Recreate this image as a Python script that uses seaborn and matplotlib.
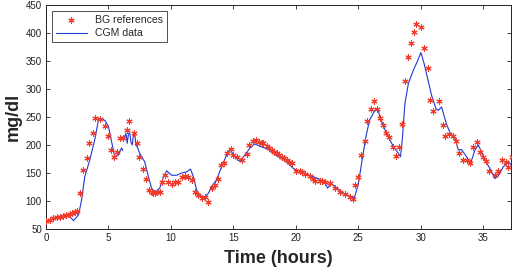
import numpy as np
import pandas as pd
import matplotlib
matplotlib.use("Agg")
import matplotlib.pyplot as plt
import seaborn as sns

# CGM trace (hours, mg/dl); NaN marks the short gap in the sensor data
cgm_time = [0.0, 0.3, 0.6, 0.9, 1.2, 1.5, 1.8, 2.0, 2.2, 2.4, 2.6, 2.85, 3.1, 3.5, 3.9,
            4.2, 4.5, 4.75, 5.0, 5.25, 5.5, 5.8, 6.05, 6.15, 6.22, 6.3, 6.4, 6.5, 6.6,
            6.7, 6.8, 6.9, 7.0, 7.1, 7.2, 7.3, 7.5, 7.9, 8.2, 8.45, 8.7, 8.9, 9.1, 9.4,
            9.65, 10.05, 10.45, 10.85, 11.25, 11.57, 11.8, 12.05, 12.3, 12.6, 13.0,
            13.25, 13.65, 14.05, 14.45, 14.72, 15.1, 15.5, 15.9, 16.3, 16.7, 17.2, 17.8,
            18.2, 19.25, 19.8, 20.85, 21.8, 22.3, 22.53, 22.85, 23.8, 24.67, 25.0,
            25.25, 25.6, 25.9, 26.35, 26.6, 26.75, 27.25, 27.8, 28.2, 28.37, 28.53,
            28.72, 29.0, 29.4, 29.65, 30.0, 30.25, 30.6, 30.85, 31.2, 31.4, 31.65,
            32.05, 32.35, 32.72, 33.0, 33.25, 33.65, 33.97, 34.32, 34.59, 34.85, 35.12,
            35.52, 35.92, 36.19, 36.59, 36.99, 37.25]
cgm_value = [63, 66, 68, 70, 72, 73, 72, 70, 65, 70, 75, 102, 143, 173, 209,
             245, 247, 243, 233, 206, 179, 182, 195, 190, np.nan, 215, 221, 203, 220,
             222, 205, 200, 218, 221, 200, 197, 185, 170, 143, 123, 117, 118, 123, 143,
             154, 146, 146, 150, 152, 157, 143, 120, 111, 105, 114,
             126, 138, 161, 182, 192, 179, 171, 182, 194, 202, 197, 192,
             185, 170, 158, 148, 140, 134, 123, 131, 114, 105, 131,
             167, 215, 245, 263, 261, 247, 221, 197, 185, 179, 215,
             274, 310, 334, 346, 365, 346, 313, 289, 265, 262, 268,
             237, 221, 212, 191, 192, 179, 167, 191, 200, 188, 173,
             158, 140, 145, 161, 170, 164]

# finger-stick blood glucose references
bg_time = [0.0, 0.3, 0.6, 0.9, 1.1, 1.4, 1.6, 1.9, 2.1, 2.3, 2.5, 2.72, 2.99, 3.25, 3.47,
           3.73, 3.95, 4.32, 4.72, 4.99, 5.2, 5.44, 5.7, 5.92, 6.19, 6.45, 6.67, 7.04,
           7.25, 7.47, 7.73, 8.0, 8.27, 8.45, 8.59, 8.72, 8.85, 9.12, 9.25, 9.52, 9.79,
           10.05, 10.32, 10.59, 10.85, 11.12, 11.39, 11.65, 11.92, 12.19, 12.45, 12.72,
           12.99, 13.25, 13.52, 13.79, 13.97, 14.24, 14.5, 14.77, 14.99, 15.31, 15.65,
           16.05, 16.27, 16.53, 16.8, 17.07, 17.25, 17.39, 17.65, 17.85, 18.05, 18.25,
           18.45, 18.65, 18.85, 19.05, 19.25, 19.45, 19.65, 20.0, 20.32, 20.52, 20.72,
           21.12, 21.35, 21.52, 21.92, 22.12, 22.32, 22.72, 23.12, 23.52, 23.92, 24.32,
           24.53, 24.72, 24.93, 25.2, 25.52, 25.71, 25.97, 26.24, 26.45, 26.72, 26.93,
           27.2, 27.47, 27.73, 28.0, 28.27, 28.51, 28.72, 28.99, 29.2, 29.44, 29.6,
           29.97, 30.24, 30.55, 30.75, 30.99, 31.47, 31.73, 31.92, 32.27, 32.53, 32.8,
           33.07, 33.39, 33.65, 33.92, 34.19, 34.51, 34.72, 34.99, 35.2, 35.47, 35.92,
           36.19, 36.45, 36.8, 36.99, 37.25]
bg_value = [65, 67, 69, 71, 72, 74, 75, 76, 79, 80, 83, 115, 155, 176, 203,
            222, 248, 246, 234, 216, 191, 179, 188, 212, 212, 227, 243, 221,
            203, 179, 158, 139, 120, 116, 114, 114, 117, 117, 134, 146, 134,
            131, 134, 134, 143, 145, 142, 137, 117, 111, 105, 108,
            99, 123, 129, 140, 164, 168, 185, 192, 182, 178, 174,
            184, 200, 208, 209, 206, 204, 203, 198, 195, 191, 188,
            185, 182, 179, 176, 173, 170, 167, 154, 154, 151, 148,
            145, 140, 136, 136, 135, 134, 133, 123, 117, 112, 108,
            104, 129, 143, 182, 208, 242, 265, 279, 264, 249, 236,
            222, 215, 197, 180, 196, 237, 315, 358, 383, 402, 416,
            410, 374, 337, 280, 261, 278, 236, 216, 219, 216, 208,
            186, 173, 173, 168, 196, 206, 188, 178, 172, 154, 146,
            154, 174, 170, 161, 179]

cgm = pd.DataFrame({"time": cgm_time, "value": cgm_value})
bg = pd.DataFrame({"time": bg_time, "value": bg_value})

sns.set_style("ticks")
plt.rcParams['font.family'] = ['Liberation Sans', 'DejaVu Sans']

fig = plt.figure(figsize=(5.16, 2.72), dpi=100)
ax = fig.add_axes([0.0891, 0.158, 0.901, 0.8236])

sns.scatterplot(data=bg, x="time", y="value", ax=ax, marker=(6, 2, 0), s=15,
                color="#f03a2a", linewidth=0.8, label="BG references", zorder=3)
ax.plot(cgm["time"], cgm["value"], color="#2238d4", linewidth=0.8, label="CGM data", zorder=2)

ax.set_xlim(0, 37.2)
ax.set_ylim(50, 450)
ax.set_xticks(range(0, 36, 5))
ax.set_yticks(range(50, 451, 50))
ax.tick_params(direction="in", length=3, width=0.6, labelsize=7, top=True, right=True,
               colors="#222222", pad=3)
for sp in ax.spines.values():
    sp.set_visible(True)
    sp.set_linewidth(0.7)
    sp.set_color("#222222")

ax.set_xlabel("Time (hours)", fontsize=13, fontweight="bold", labelpad=5)
ax.set_ylabel("mg/dl", fontsize=13, fontweight="bold", labelpad=3)

leg = ax.legend(loc="upper left", fontsize=7.6, frameon=True, fancybox=False,
                borderaxespad=0.55, handlelength=2.9, handletextpad=0.75,
                borderpad=0.4, labelspacing=0.3)
leg.get_frame().set_edgecolor("#222222")
leg.get_frame().set_linewidth(0.7)

fig.savefig("out.png", dpi=100)
